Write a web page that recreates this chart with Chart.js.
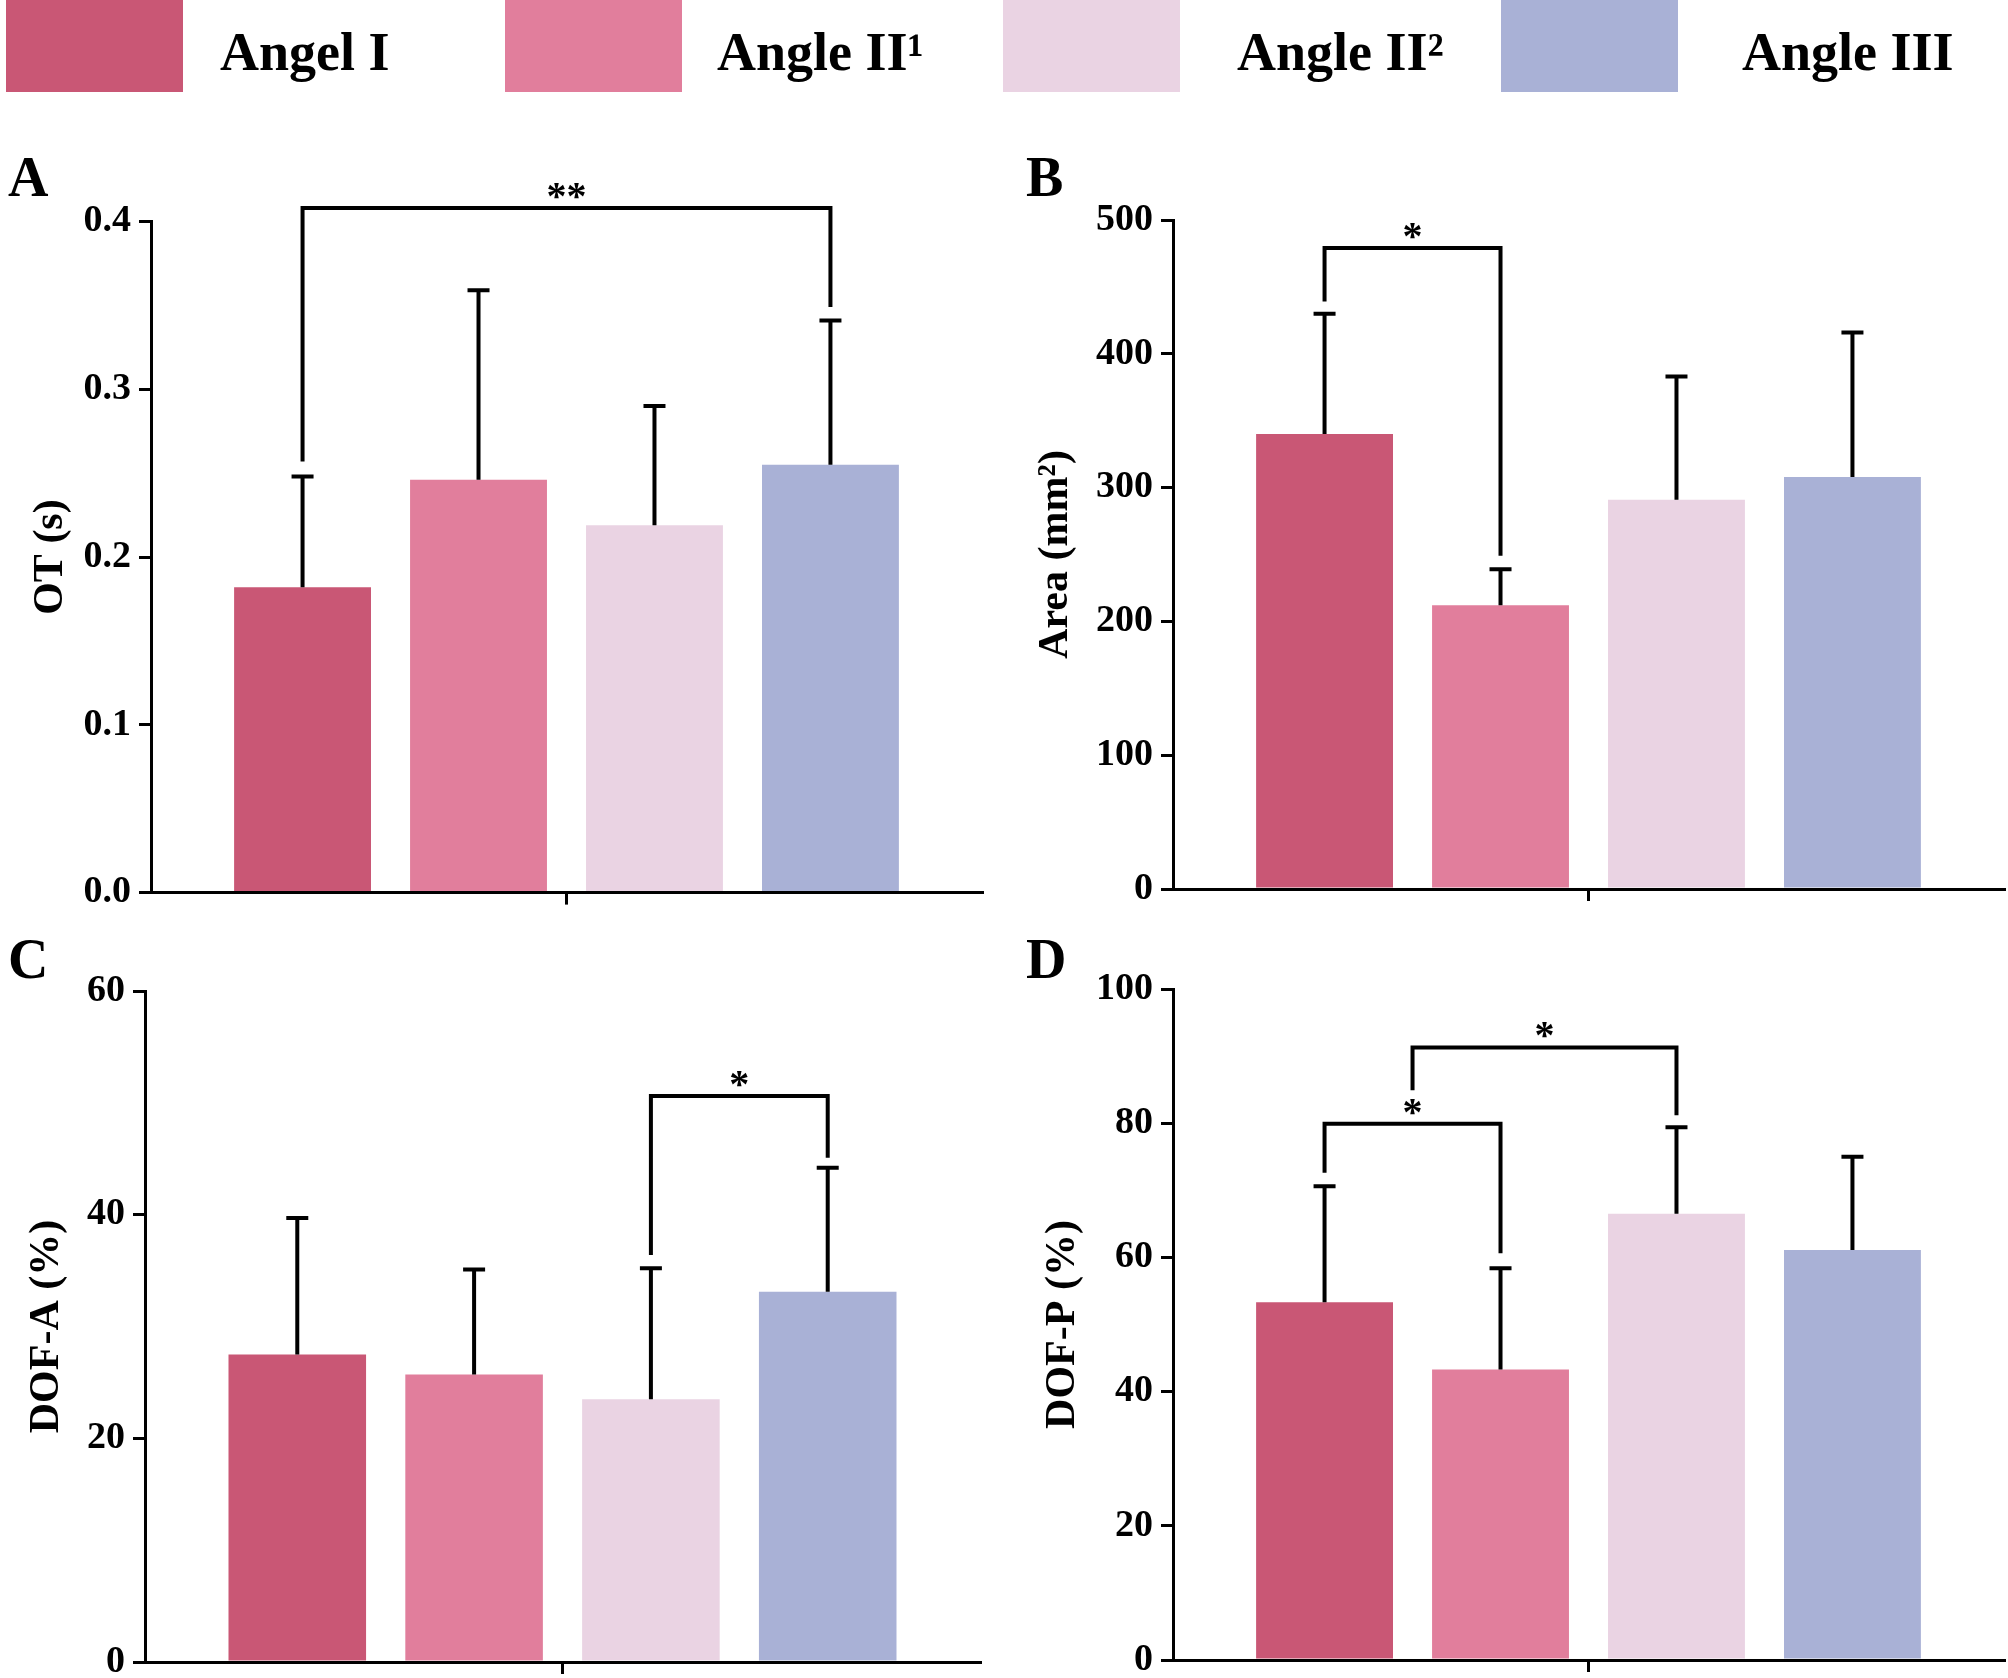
<!DOCTYPE html>
<html>
<head>
<meta charset="utf-8">
<script src="https://cdn.jsdelivr.net/npm/chart.js@4.4.0/dist/chart.umd.min.js"></script>
<style>
  body { margin: 0; background: #fff; width: 2008px; height: 1678px; position: relative; overflow: hidden;
         font-family: 'Liberation Serif', 'Times New Roman', serif; }
  .box { position: absolute; top: 0; width: 177px; height: 92px; }
  .leg { position: absolute; top: 25px; font-weight: bold; font-size: 54px; line-height: 54px; white-space: nowrap; }
  .letter { position: absolute; font-weight: bold; font-size: 56px; line-height: 56px; }
  .wrap { position: absolute; }
</style>
</head>
<body>

<div class="box" style="left:6px;background:#C95775"></div>
<div class="leg" style="left:220px">Angel I</div>
<div class="box" style="left:505px;background:#E17E9C"></div>
<div class="leg" style="left:717px">Angle II¹</div>
<div class="box" style="left:1003px;background:#EAD3E3"></div>
<div class="leg" style="left:1237px">Angle II²</div>
<div class="box" style="left:1501px;background:#A9B1D6"></div>
<div class="leg" style="left:1742px">Angle III</div>

<div class="letter" style="left:8px;top:149px">A</div>
<div class="letter" style="left:1026px;top:149px">B</div>
<div class="letter" style="left:8px;top:931px">C</div>
<div class="letter" style="left:1026px;top:931px">D</div>

<div class="wrap" style="left:0;top:110px"><canvas id="chartA" width="1000" height="820"></canvas></div>
<div class="wrap" style="left:1000px;top:110px"><canvas id="chartB" width="1008" height="820"></canvas></div>
<div class="wrap" style="left:0;top:930px"><canvas id="chartC" width="1000" height="790"></canvas></div>
<div class="wrap" style="left:1000px;top:930px"><canvas id="chartD" width="1008" height="790"></canvas></div>

<script>
// --- data ---
const groups = ['Angel I', 'Angle II¹', 'Angle II²', 'Angle III'];

const otMean = [0.182, 0.246, 0.219, 0.255];
const otSd   = [0.066, 0.113, 0.071, 0.086];
const otTicks = [0, 0.1, 0.2, 0.3, 0.4];

const areaMean = [340, 212, 291, 308];
const areaSd   = [90, 27, 92, 108];
const areaTicks = [0, 100, 200, 300, 400, 500];

const dofaMean = [27.5, 25.7, 23.5, 33.1];
const dofaSd   = [12.2, 9.4, 11.7, 11.1];
const dofaTicks = [0, 20, 40, 60];

const dofpMean = [53.3, 43.3, 66.5, 61.1];
const dofpSd   = [17.3, 15.1, 12.9, 13.9];
const dofpTicks = [0, 20, 40, 60, 80, 100];

// significance brackets: [from bar, to bar, bracket level, left leg end, right leg end, mark]
const otSig   = [[0, 3, 0.408, 0.257, 0.349, '**']];
const areaSig = [[0, 1, 479, 439, 249, '*']];
const dofaSig = [[2, 3, 50.6, 36.4, 45.1, '*']];
const dofpSig = [[0, 1, 79.9, 72.6, 60.6, '*'], [0.5, 2, 91.3, 84.9, 81.2, '*']];

const barColors = ['#C95775', '#E17E9C', '#EAD3E3', '#A9B1D6'];
const FONT = "'Liberation Serif', 'Times New Roman', serif";

Chart.defaults.font.family = FONT;
Chart.defaults.font.weight = 'bold';
Chart.defaults.color = '#000';

// error bars + brackets drawn from the bar elements and the y scale
const errorBars = {
    id: 'errorBars',
    afterDatasetsDraw(chart, args, opts) {
        const ctx = chart.ctx;
        const y = chart.scales.y;
        const barX = pos => {
            const i = Math.floor(pos), f = pos - i;
            const x0 = chart.getDatasetMeta(i).data[0].x;
            if (f === 0) return x0;
            const x1 = chart.getDatasetMeta(i + 1).data[0].x;
            return x0 + (x1 - x0) * f;
        };
        ctx.save();
        ctx.strokeStyle = '#000';
        ctx.lineWidth = 4;
        ctx.lineCap = 'butt';
        opts.sd.forEach((s, i) => {
            const bar = chart.getDatasetMeta(i).data[0];
            const v = chart.data.datasets[i].data[0];
            const top = y.getPixelForValue(v + s);
            ctx.beginPath();
            ctx.moveTo(bar.x, bar.y);
            ctx.lineTo(bar.x, top);
            ctx.moveTo(bar.x - 11, top);
            ctx.lineTo(bar.x + 11, top);
            ctx.stroke();
        });
        ctx.fillStyle = '#000';
        ctx.font = 'bold 40px ' + FONT;
        ctx.textAlign = 'center';
        ctx.textBaseline = 'alphabetic';
        opts.sig.forEach(b => {
            const xl = barX(b[0]), xr = barX(b[1]);
            const yl = y.getPixelForValue(b[2]);
            ctx.beginPath();
            ctx.moveTo(xl, y.getPixelForValue(b[3]));
            ctx.lineTo(xl, yl);
            ctx.lineTo(xr, yl);
            ctx.lineTo(xr, y.getPixelForValue(b[4]));
            ctx.stroke();
            ctx.fillText(b[5], (xl + xr) / 2, yl + 1);
        });
        ctx.restore();
    }
};

function makePanel(id, title, means, sd, ticks, sig, box) {
    const decimals = ticks[1] < 1 ? 1 : 0;
    new Chart(document.getElementById(id), {
        type: 'bar',
        data: {
            labels: [''],
            datasets: groups.map((g, i) => ({
                label: g,
                data: [means[i]],
                backgroundColor: barColors[i],
                borderWidth: 0,
                categoryPercentage: 0.847,
                barPercentage: 0.778
            }))
        },
        options: {
            responsive: false,
            animation: false,
            devicePixelRatio: 1,
            layout: { padding: { left: 0, top: box.top, right: box.right, bottom: 0 } },
            plugins: {
                legend: { display: false },
                tooltip: { enabled: false },
                errorBars: { sd: sd, sig: sig }
            },
            scales: {
                x: {
                    offset: true,
                    grid: { offset: false, drawOnChartArea: false, color: '#000', lineWidth: 3, tickLength: 12 },
                    border: { display: true, color: '#000', width: 3 },
                    ticks: { display: false },
                    afterFit: s => { s.height = box.bottom; }
                },
                y: {
                    min: ticks[0],
                    max: ticks[ticks.length - 1],
                    afterBuildTicks: s => { s.ticks = ticks.map(v => ({ value: v })); },
                    grid: { drawOnChartArea: false, color: '#000', lineWidth: 3, tickLength: 12 },
                    border: { display: true, color: '#000', width: 3 },
                    ticks: {
                        padding: 8,
                        font: { size: 38, weight: 'bold' },
                        callback: v => Number(v).toFixed(decimals)
                    },
                    title: {
                        display: true,
                        text: title,
                        font: { size: 42, weight: 'bold' },
                        padding: { top: box.titlePad, bottom: 0 }
                    },
                    afterFit: s => { s.width = box.left; }
                }
            }
        },
        plugins: [errorBars]
    });
}

makePanel('chartA', 'OT (s)', otMean, otSd, otTicks, otSig,
    { left: 151, right: 18, top: 111.5, bottom: 37.4, titlePad: 26 });
makePanel('chartB', 'Area (mm²)', areaMean, areaSd, areaTicks, areaSig,
    { left: 173, right: 4, top: 110, bottom: 41, titlePad: 31 });
makePanel('chartC', 'DOF-A (%)', dofaMean, dofaSd, dofaTicks, dofaSig,
    { left: 145, right: 20, top: 61, bottom: 58, titlePad: 22 });
makePanel('chartD', 'DOF-P (%)', dofpMean, dofpSd, dofpTicks, dofpSig,
    { left: 173, right: 4, top: 59, bottom: 60, titlePad: 38 });
</script>
</body>
</html>
